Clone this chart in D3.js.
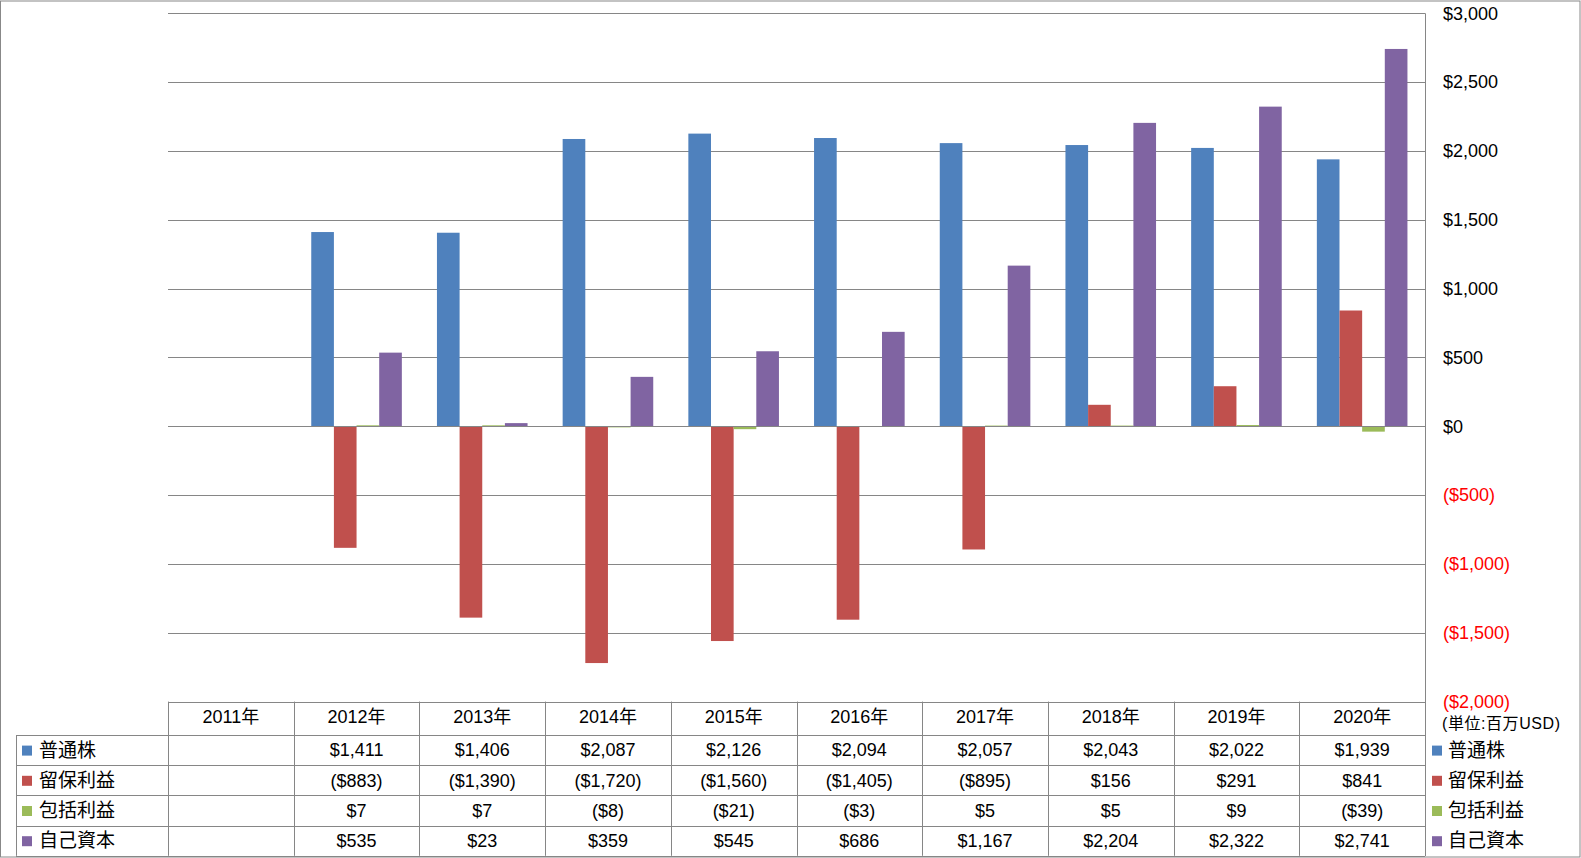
<!DOCTYPE html>
<html>
<head>
<meta charset="utf-8">
<script src="https://cdn.jsdelivr.net/npm/d3@7"></script>
<style>
  body { margin: 0; background: #fff; }
  svg { display: block; }
  text { font-family: "Liberation Sans", "Noto Sans CJK JP", sans-serif; }
</style>
</head>
<body>
<svg width="1581" height="858"></svg>
<script>
// data
const years = ['2011年', '2012年', '2013年', '2014年', '2015年', '2016年', '2017年', '2018年', '2019年', '2020年'];
const seriesNames = ['普通株', '留保利益', '包括利益', '自己資本'];
const commonStock = [null, 1411, 1406, 2087, 2126, 2094, 2057, 2043, 2022, 1939];
const retainedEarnings = [null, -883, -1390, -1720, -1560, -1405, -895, 156, 291, 841];
const comprehensiveIncome = [null, 7, 7, -8, -21, -3, 5, 5, 9, -39];
const equity = [null, 535, 23, 359, 545, 686, 1167, 2204, 2322, 2741];
const yTicks = [-2000, -1500, -1000, -500, 0, 500, 1000, 1500, 2000, 2500, 3000];
const unitLabel = '(単位:百万USD)';

const colors = ['#4F81BD', '#C0504D', '#9BBB59', '#8064A2'];
const seriesValues = [commonStock, retainedEarnings, comprehensiveIncome, equity];

const svg = d3.select('svg');
const W = 1581, H = 858;

const plot = {left: 168, right: 1425, top: 13.3, bottom: 701.6};
const keyLeft = 16;
const headerBottom = 735;
const rowH = 30.2;

const fmt = v => v == null ? '' : (v < 0 ? '($' + d3.format(',')(-v) + ')' : '$' + d3.format(',')(v));

// outer border
svg.append('rect')
  .attr('x', 0.5).attr('y', 1).attr('width', W - 1.5).attr('height', H - 2)
  .attr('fill', '#fff').attr('stroke', '#888').attr('stroke-width', 1);

const x0 = d3.scaleBand().domain(years).range([plot.left, plot.right]).padding(0);
const x1 = d3.scaleBand().domain(seriesNames).range([0, x0.bandwidth()])
  .paddingInner(0).paddingOuter(0.775);
const y = d3.scaleLinear().domain([-2000, 3000]).range([plot.bottom, plot.top]);

// gridlines
svg.append('g').selectAll('line').data(yTicks.filter(d => d > -2000)).enter().append('line')
  .attr('x1', plot.left).attr('x2', plot.right)
  .attr('y1', d => Math.round(y(d)) + 0.5).attr('y2', d => Math.round(y(d)) + 0.5)
  .attr('stroke', '#868686').attr('stroke-width', 1);

// bars
const barData = [];
years.forEach((yr, i) => {
  seriesNames.forEach((s, j) => {
    const v = seriesValues[j][i];
    if (v != null) barData.push({yr, s, j, v});
  });
});
svg.append('g').selectAll('rect').data(barData).enter().append('rect')
  .attr('x', d => x0(d.yr) + x1(d.s))
  .attr('width', x1.bandwidth())
  .attr('y', d => y(Math.max(0, d.v)))
  .attr('height', d => Math.abs(y(d.v) - y(0)))
  .attr('fill', d => colors[d.j]);

// zero line on top
svg.append('line')
  .attr('x1', plot.left).attr('x2', plot.right)
  .attr('y1', Math.round(y(0)) + 0.5).attr('y2', Math.round(y(0)) + 0.5)
  .attr('stroke', '#868686');

// right axis
const axis = svg.append('g')
  .attr('transform', `translate(${plot.right},0)`)
  .call(d3.axisRight(y).tickValues(yTicks).tickSize(0).tickPadding(18).tickFormat(fmt));
axis.selectAll('text')
  .attr('font-size', 18)
  .attr('font-family', '"Liberation Sans", sans-serif')
  .attr('fill', d => d < 0 ? '#FF0000' : '#000');
axis.select('.domain').remove();
svg.append('line')
  .attr('x1', plot.right + 0.5).attr('x2', plot.right + 0.5)
  .attr('y1', plot.top).attr('y2', H - 2)
  .attr('stroke', '#868686');

svg.append('text')
  .attr('x', 1442).attr('y', 723)
  .attr('dy', '0.35em')
  .attr('font-size', 16)
  .attr('font-family', '"Noto Sans CJK JP", sans-serif')
  .attr('textLength', 118)
  .attr('lengthAdjust', 'spacing')
  .text(unitLabel);

// data table
const table = svg.append('g');
const lineColor = '#868686';
const tableBottom = headerBottom + rowH * 4;

// horizontal lines
table.append('line')
  .attr('x1', plot.left).attr('x2', plot.right)
  .attr('y1', Math.round(plot.bottom) + 0.5).attr('y2', Math.round(plot.bottom) + 0.5)
  .attr('stroke', lineColor);
d3.range(5).forEach(k => {
  const yy = Math.round(headerBottom + k * rowH) + 0.5;
  table.append('line')
    .attr('x1', keyLeft).attr('x2', plot.right)
    .attr('y1', yy).attr('y2', yy)
    .attr('stroke', lineColor);
});
// vertical lines
years.forEach((yr, i) => {
  const xx = Math.round(x0(yr)) + 0.5;
  table.append('line')
    .attr('x1', xx).attr('x2', xx)
    .attr('y1', plot.bottom).attr('y2', tableBottom)
    .attr('stroke', lineColor);
});
table.append('line')
  .attr('x1', keyLeft + 0.5).attr('x2', keyLeft + 0.5)
  .attr('y1', headerBottom).attr('y2', tableBottom)
  .attr('stroke', lineColor);

// header
table.selectAll('text.yr').data(years).enter().append('text')
  .attr('class', 'yr')
  .attr('x', d => x0(d) + x0.bandwidth() / 2)
  .attr('y', 717)
  .attr('dy', '0.35em')
  .attr('text-anchor', 'middle')
  .attr('font-size', 18)
  .text(d => d);

// rows
seriesNames.forEach((s, j) => {
  const cy = headerBottom + rowH * j + rowH / 2;
  table.append('rect')
    .attr('x', 22).attr('y', cy - 4.5).attr('width', 10).attr('height', 10)
    .attr('fill', colors[j]);
  table.append('text')
    .attr('x', 39).attr('y', cy).attr('dy', '0.35em')
    .attr('font-size', 19)
    .attr('font-family', '"Noto Sans CJK JP", sans-serif')
    .text(s);
  table.selectAll('text.v' + j).data(years).enter().append('text')
    .attr('class', 'v' + j)
    .attr('x', d => x0(d) + x0.bandwidth() / 2)
    .attr('y', cy).attr('dy', '0.35em')
    .attr('text-anchor', 'middle')
    .attr('font-size', 18)
    .text((d, i) => fmt(seriesValues[j][i]));
  // right legend
  table.append('rect')
    .attr('x', 1432).attr('y', cy - 4.5).attr('width', 10).attr('height', 10)
    .attr('fill', colors[j]);
  table.append('text')
    .attr('x', 1448).attr('y', cy).attr('dy', '0.35em')
    .attr('font-size', 19)
    .attr('font-family', '"Noto Sans CJK JP", sans-serif')
    .text(s);
});
</script>
</body>
</html>
